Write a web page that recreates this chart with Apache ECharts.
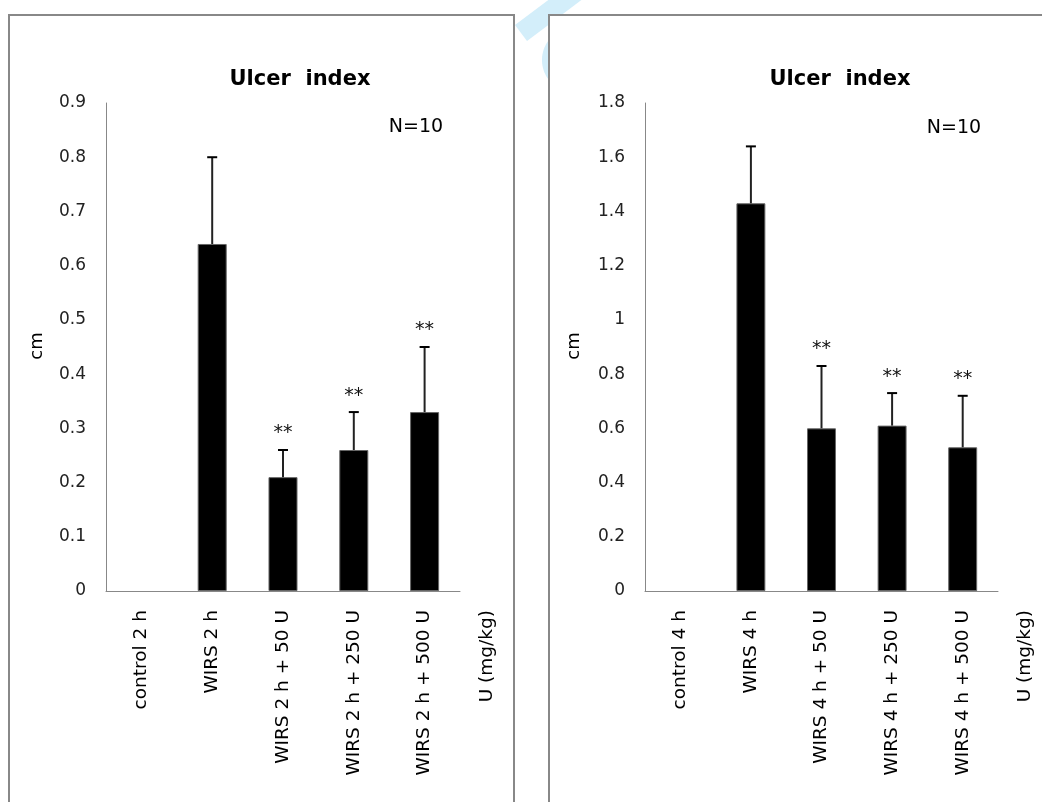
<!DOCTYPE html>
<html>
<head>
<meta charset="utf-8">
<script src="https://cdn.jsdelivr.net/npm/echarts@6/dist/echarts.min.js"></script>
<style>
  html, body { margin: 0; padding: 0; background: #ffffff; }
  #chart { width: 1042px; height: 802px; }
</style>
</head>
<body>
<div id="chart"></div>
<script>
// Ulcer index after 2 h and 4 h of water-immersion restraint stress (WIRS)
const categories2h = ['control 2 h', 'WIRS 2 h', 'WIRS 2 h + 50 U', 'WIRS 2 h + 250 U', 'WIRS 2 h + 500 U'];
const means2h = [0, 0.64, 0.21, 0.26, 0.33];
const errors2h = [0, 0.16, 0.05, 0.07, 0.12];
const marks2h = ['', '', '**', '**', '**'];

const categories4h = ['control 4 h', 'WIRS 4 h', 'WIRS 4 h + 50 U', 'WIRS 4 h + 250 U', 'WIRS 4 h + 500 U'];
const means4h = [0, 1.43, 0.60, 0.61, 0.53];
const errors4h = [0, 0.21, 0.23, 0.12, 0.19];
const marks4h = ['', '', '**', '**', '**'];

const axisMax2h = 0.9, axisStep2h = 0.1;
const axisMax4h = 1.8, axisStep4h = 0.2;

const chartTitle = 'Ulcer  index';
const sampleSize = 'N=10';
const yName = 'cm';
const doseName = 'U (mg/kg)';

const FONT = 'DejaVu Sans';

function makeXAxis(cats, gridIndex) {
  return {
    type: 'category', gridIndex, data: cats,
    axisLine: { lineStyle: { color: '#888', width: 1 } },
    axisTick: { show: false },
    axisLabel: { rotate: 90, margin: 19, color: '#000', fontFamily: FONT, fontSize: 18.5, interval: 0 },
    splitLine: { show: false }
  };
}
function makeYAxis(max, step, gridIndex) {
  return {
    type: 'value', gridIndex, min: 0, max, interval: step,
    axisLine: { show: true, lineStyle: { color: '#888', width: 1 } },
    axisTick: { show: false },
    axisLabel: { margin: 20, color: '#222', fontFamily: FONT, fontSize: 17 },
    splitLine: { show: false }
  };
}
function barSeries(values, idx) {
  return {
    type: 'bar', xAxisIndex: idx, yAxisIndex: idx,
    data: values.map(v => ({ value: v, itemStyle: v > 0 ? {} : { borderWidth: 0 } })),
    barWidth: '41%',
    itemStyle: { color: '#000', borderColor: '#666', borderWidth: 1 },
    silent: true
  };
}
function errorSeries(values, errs, marks, idx) {
  return {
    type: 'custom', xAxisIndex: idx, yAxisIndex: idx, z: 5, silent: true,
    data: values.map((v, i) => [i, v, errs[i]]),
    renderItem: function (params, api) {
      const i = api.value(0), m = api.value(1), e = api.value(2);
      if (!(e > 0)) return null;
      const base = api.coord([i, m]);
      const top = api.coord([i, m + e]);
      const children = [
        { type: 'line', shape: { x1: base[0], y1: base[1], x2: top[0], y2: top[1] },
          style: { stroke: '#222', lineWidth: 2 } },
        { type: 'line', shape: { x1: top[0] - 5, y1: top[1], x2: top[0] + 5, y2: top[1] },
          style: { stroke: '#000', lineWidth: 2 } }
      ];
      const mark = marks[params.dataIndex];
      if (mark) {
        children.push({ type: 'text', x: top[0], y: top[1] - 16.5,
          style: { text: mark, fill: '#111', font: '19px "' + FONT + '"', align: 'center', verticalAlign: 'middle' } });
      }
      return { type: 'group', children };
    }
  };
}
function label(text, x, y, size, opts) {
  return Object.assign({ type: 'text', x, y,
    style: Object.assign({ text, fill: '#000', font: size + 'px "' + FONT + '"', align: 'center', verticalAlign: 'middle' }, opts || {}) });
}

// faint blue stamp in the gap between the two frames (kept outside the right frame)
const stampBlue = '#d3eefa';
const ringPts = [];
{
  const cx = 575, cy = 60, r = 33, edge = 549;
  const half = Math.acos((cx - edge) / r);
  for (let k = 0; k <= 24; k++) {
    const a = Math.PI - half + (2 * half) * k / 24;
    ringPts.push([cx + r * Math.cos(a), cy + r * Math.sin(a)]);
  }
}

const chart = echarts.init(document.getElementById('chart'), null, { renderer: 'canvas' });
chart.setOption({
  backgroundColor: '#ffffff',
  animation: false,
  grid: [
    { left: 106, top: 103, width: 354, height: 488 },
    { left: 645, top: 103, width: 353, height: 488 }
  ],
  xAxis: [makeXAxis(categories2h, 0), makeXAxis(categories4h, 1)],
  yAxis: [makeYAxis(axisMax2h, axisStep2h, 0), makeYAxis(axisMax4h, axisStep4h, 1)],
  series: [
    barSeries(means2h, 0), errorSeries(means2h, errors2h, marks2h, 0),
    barSeries(means4h, 1), errorSeries(means4h, errors4h, marks4h, 1)
  ],
  graphic: [
    { type: 'polygon', shape: { points: [[515, 25], [527, 41], [549, 24.4], [549, 15], [561.5, 15], [588, -5], [555, -5]] },
      style: { fill: stampBlue } },
    { type: 'polygon', shape: { points: ringPts }, style: { fill: stampBlue } },
    // panel frames
    { type: 'rect', shape: { x: 9, y: 15, width: 505, height: 820 },
      style: { fill: 'none', stroke: '#888', lineWidth: 2 } },
    { type: 'rect', shape: { x: 549, y: 15, width: 520, height: 820 },
      style: { fill: 'none', stroke: '#888', lineWidth: 2 } },
    // titles and annotations
    label(chartTitle, 300, 80, 21, { font: 'bold 21px "' + FONT + '"' }),
    label(chartTitle, 840, 80, 21, { font: 'bold 21px "' + FONT + '"' }),
    label(sampleSize, 416, 127, 19),
    label(sampleSize, 954, 128, 19),
    Object.assign(label(yName, 37, 346, 18), { rotation: Math.PI / 2 }),
    Object.assign(label(yName, 574, 346, 18), { rotation: Math.PI / 2 }),
    Object.assign(label(doseName, 487, 610, 18.5, { align: 'right' }), { rotation: Math.PI / 2 }),
    Object.assign(label(doseName, 1025, 610, 18.5, { align: 'right' }), { rotation: Math.PI / 2 })
  ]
});
</script>
</body>
</html>
